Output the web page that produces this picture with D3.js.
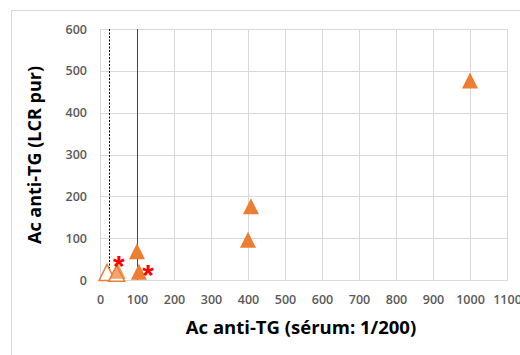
<!DOCTYPE html>
<html>
<head>
<meta charset="utf-8">
<script src="https://cdn.jsdelivr.net/npm/d3@7"></script>
<style>
  body { margin: 0; background: #fff; }
  svg { display: block; font-family: "Open Sans", "Liberation Sans", sans-serif; }
</style>
</head>
<body>
<svg id="chart" width="520" height="355"></svg>
<script>
// Data
const filledX = [1000, 408, 400, 100, 105];
const filledY = [477, 176, 96, 69, 20];
const fadedX = [48];
const fadedY = [22];
const hollowX = [19, 45];
const hollowY = [18, 16];
// asterisk annotations (centre of the glyph, data units)
const starX = [51, 130];
const starY = [44, 22];
const xTicks = d3.range(0, 1101, 100);
const yTicks = d3.range(0, 601, 100);
const dashedLineX = 25;
const redLineX = 100;

const margin = { top: 29, right: 13, bottom: 75, left: 100 };
const width = 520, height = 355;

const $svg = d3.select("#chart");

// outer chart frame
$svg.append("rect")
  .attr("x", 11.5).attr("y", 10.5)
  .attr("width", 530).attr("height", 360)
  .attr("fill", "none").attr("stroke", "#d9d9d9");

const x = d3.scaleLinear().domain([0, 1100]).range([margin.left, width - margin.right]);
const y = d3.scaleLinear().domain([0, 600]).range([height - margin.bottom, margin.top]);
const px = v => Math.round(v) + 0.5;

// Grid
$svg.append("g")
  .selectAll("line")
  .data(xTicks)
  .join("line")
    .attr("x1", d => px(x(d))).attr("x2", d => px(x(d)))
    .attr("y1", px(y(600))).attr("y2", px(y(0)))
    .attr("stroke", "#d9d9d9");
$svg.append("g")
  .selectAll("line")
  .data(yTicks)
  .join("line")
    .attr("y1", d => px(y(d))).attr("y2", d => px(y(d)))
    .attr("x1", px(x(0))).attr("x2", px(x(1100)))
    .attr("stroke", "#d9d9d9");

// Axes (labels only)
const xAxis = d3.axisBottom(x).tickValues(xTicks).tickFormat(d3.format("d")).tickSize(0).tickPadding(15);
const yAxis = d3.axisLeft(y).tickValues(yTicks).tickFormat(d3.format("d")).tickSize(0).tickPadding(13);

const $xAxis = $svg.append("g")
  .attr("transform", `translate(0,${y(0)})`)
  .call(xAxis);
const $yAxis = $svg.append("g")
  .attr("transform", `translate(${x(0)},0)`)
  .call(yAxis);
[$xAxis, $yAxis].forEach(g => {
  g.select(".domain").remove();
  g.selectAll("text")
    .attr("fill", "#595959")
    .attr("font-size", 12.5)
    .attr("font-weight", 600)
    .attr("font-family", "'Open Sans', sans-serif");
});

// Reference lines
$svg.append("line")
  .attr("x1", px(x(dashedLineX))).attr("x2", px(x(dashedLineX)))
  .attr("y1", y(600)).attr("y2", y(0))
  .attr("stroke", "#000").attr("stroke-width", 1)
  .attr("stroke-dasharray", "2,1.5");

// Markers: triangles 16 wide, 16 tall, centred on the point
const tri = "M0,-8L8,8L-8,8Z";

$svg.append("g")
  .selectAll("path")
  .data(hollowX.map((d, i) => [d, hollowY[i]]))
  .join("path")
    .attr("d", tri)
    .attr("transform", d => `translate(${x(d[0])},${y(d[1])})`)
    .attr("fill", "#fff")
    .attr("stroke", "#ed7d31")
    .attr("stroke-width", 1.5);

$svg.append("g")
  .selectAll("path")
  .data(fadedX.map((d, i) => [d, fadedY[i]]))
  .join("path")
    .attr("d", tri)
    .attr("transform", d => `translate(${x(d[0])},${y(d[1])})`)
    .attr("fill", "#ed7d31")
    .attr("fill-opacity", 0.7);

$svg.append("line")
  .attr("x1", px(x(redLineX))).attr("x2", px(x(redLineX)))
  .attr("y1", y(600)).attr("y2", y(0))
  .attr("stroke", "#e00000").attr("stroke-width", 1);

$svg.append("g")
  .selectAll("path")
  .data(filledX.map((d, i) => [d, filledY[i]]))
  .join("path")
    .attr("d", tri)
    .attr("transform", d => `translate(${x(d[0])},${y(d[1])})`)
    .attr("fill", "#ed7d31");

// Asterisks
$svg.append("g")
  .selectAll("text")
  .data(starX.map((d, i) => [d, starY[i]]))
  .join("text")
    .attr("x", d => x(d[0]))
    .attr("y", d => y(d[1]) + 14)
    .attr("text-anchor", "middle")
    .attr("fill", "#ff0000")
    .attr("font-size", 30)
    .attr("font-weight", "bold")
    .attr("font-family", "'Liberation Sans', sans-serif")
    .text("*");

// Axis titles
$svg.append("text")
  .attr("x", 301).attr("y", 334)
  .attr("text-anchor", "middle")
  .attr("font-size", 18.5)
  .attr("font-weight", "bold")
  .attr("fill", "#000")
  .text("Ac anti-TG (sérum: 1/200)");

$svg.append("text")
  .attr("transform", "translate(41,155) rotate(-90)")
  .attr("text-anchor", "middle")
  .attr("font-size", 18)
  .attr("font-weight", "bold")
  .attr("fill", "#000")
  .text("Ac anti-TG (LCR pur)");
</script>
</body>
</html>
